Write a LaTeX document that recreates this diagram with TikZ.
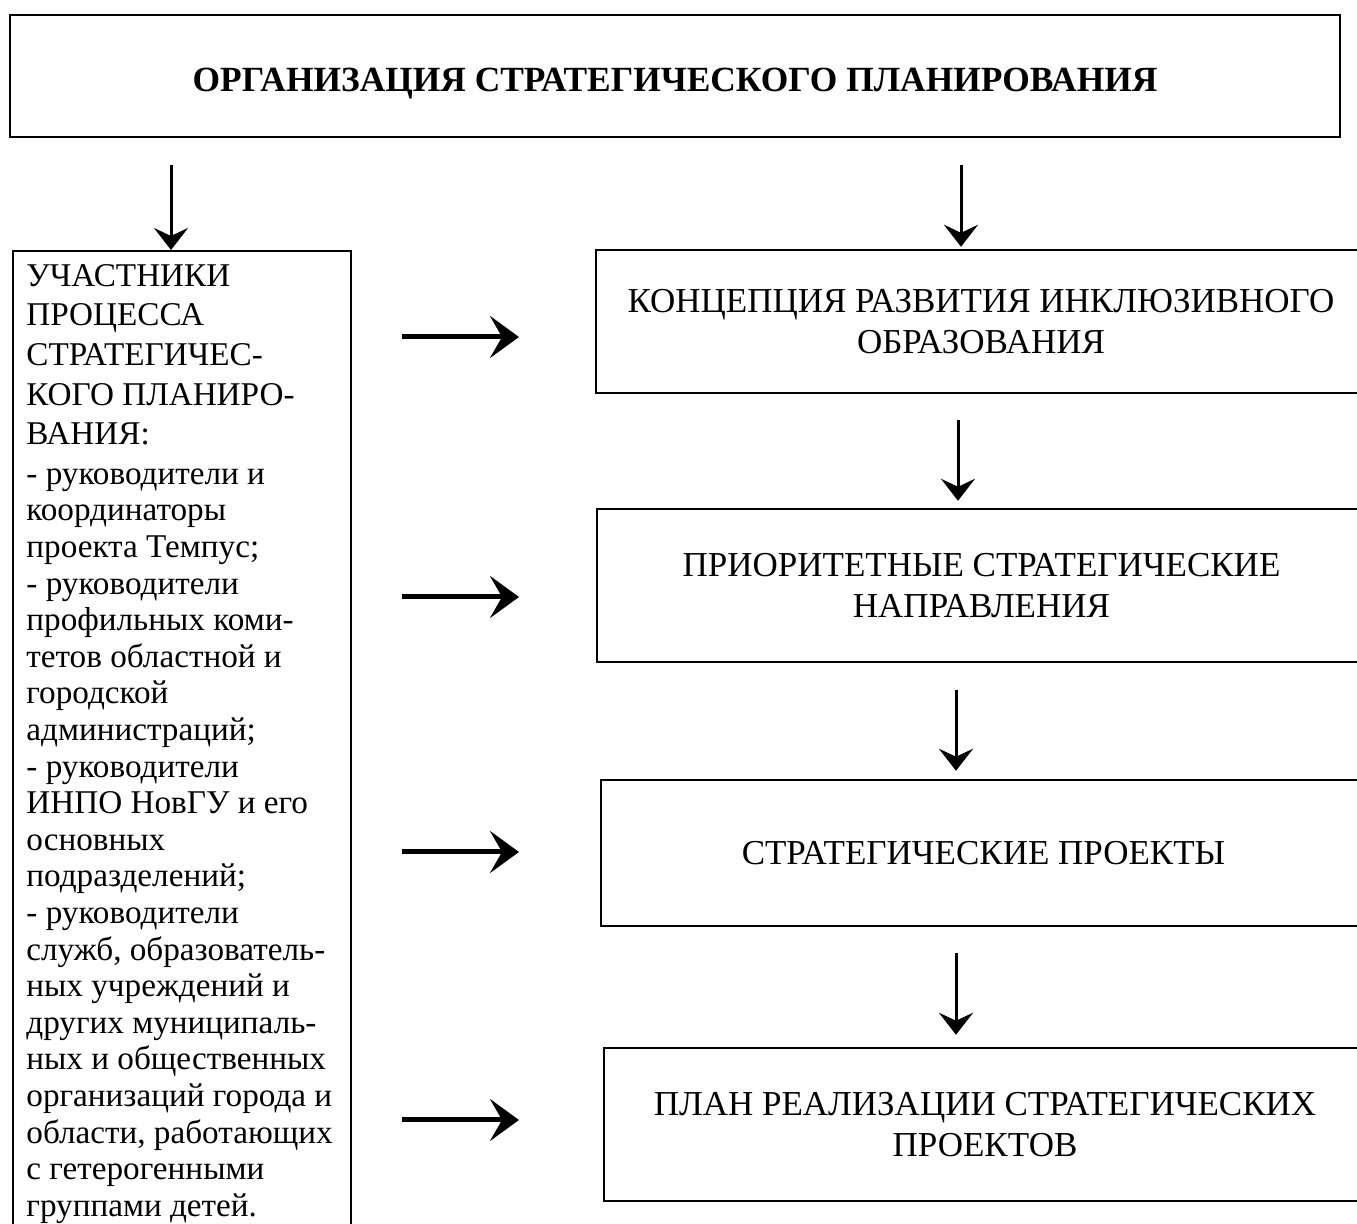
\documentclass[tikz,border=0pt]{standalone}
\usepackage{fontspec}
\setmainfont{Liberation Serif}
\usetikzlibrary{arrows.meta}

\tikzset{
  box/.style={draw, line width=1.2pt, align=center, inner sep=0pt},
  varrow/.style={-{Stealth[length=11pt,width=17pt,inset=4pt]}, line width=1.5pt},
  harrow/.style={-{Stealth[length=14.5pt,width=21pt,inset=6pt]}, line width=2.5pt},
  every node/.style={font=\fontsize{17.5}{20.5}\selectfont},
}

\begin{document}
\begin{tikzpicture}[x=0.5pt,y=-0.5pt]
  \useasboundingbox (0,0) rectangle (1357,1224);

  % top box
  \node[box, minimum width=665pt, minimum height=61pt, text height=16pt, text depth=0pt,
        font=\bfseries\fontsize{17.7}{20}\selectfont] (org) at (675,76)
        {ОРГАНИЗАЦИЯ СТРАТЕГИЧЕСКОГО ПЛАНИРОВАНИЯ};

  % left column
  \node[box, minimum width=169pt, minimum height=510pt, anchor=north west] (part) at (12,250) {};
  \node[anchor=north west, align=left, inner sep=0pt,
        font=\fontsize{16.6}{18.3}\selectfont] (parttxt) at ([xshift=7pt,yshift=-7pt]part.north west)
        {УЧАСТНИКИ\\[1.5pt]
         ПРОЦЕССА\\[1.5pt]
         СТРАТЕГИЧЕС-\\[1.5pt]
         КОГО ПЛАНИРО-\\[1.5pt]
         ВАНИЯ:\\[1.5pt]
         - руководители и\\
         координаторы\\
         проекта Темпус;\\
         - руководители\\
         профильных коми-\\
         тетов областной и\\
         городской\\
         администраций;\\
         - руководители\\
         ИНПО НовГУ и его\\
         основных\\
         подразделений;\\
         - руководители\\
         служб, образователь-\\
         ных учреждений и\\
         других муниципаль-\\
         ных и общественных\\
         организаций города и\\
         области, работающих\\
         с гетерогенными\\
         группами детей.};

  % right column
  \node[box, minimum width=385pt, minimum height=71.5pt] (konc) at (981,321.5)
        {КОНЦЕПЦИЯ РАЗВИТИЯ ИНКЛЮЗИВНОГО\\ОБРАЗОВАНИЯ};
  \node[box, minimum width=384.5pt, minimum height=76.5pt] (prior) at (981.5,585.5)
        {ПРИОРИТЕТНЫЕ СТРАТЕГИЧЕСКИЕ\\НАПРАВЛЕНИЯ};
  \node[box, minimum width=382.5pt, minimum height=73pt] (proj) at (983.5,853)
        {СТРАТЕГИЧЕСКИЕ ПРОЕКТЫ};
  \node[box, minimum width=381pt, minimum height=76.5pt] (plan) at (985,1124.5)
        {ПЛАН РЕАЛИЗАЦИИ СТРАТЕГИЧЕСКИХ\\ПРОЕКТОВ};

  % vertical arrows
  \coordinate (s1) at (171,165);
  \coordinate (s2) at (961,165);
  \coordinate (s3) at (958,420);
  \coordinate (s4) at (956,690);
  \coordinate (s5) at (956,953);
  \draw[varrow] (s1) -- (s1 |- part.north);
  \draw[varrow, shorten >=1pt] (s2) -- (s2 |- konc.north);
  \draw[varrow, shorten >=3.5pt] (s3) -- (s3 |- prior.north);
  \draw[varrow, shorten >=4pt] (s4) -- (s4 |- proj.north);
  \draw[varrow, shorten >=6pt] (s5) -- (s5 |- plan.north);

  % horizontal arrows
  \foreach \y [count=\i] in {337,597,852,1120} {
    \coordinate (hs\i) at (402,\y);
    \coordinate (he\i) at (519,\y);
    \draw[harrow] (hs\i) -- (he\i);
  }
\end{tikzpicture}
\end{document}
